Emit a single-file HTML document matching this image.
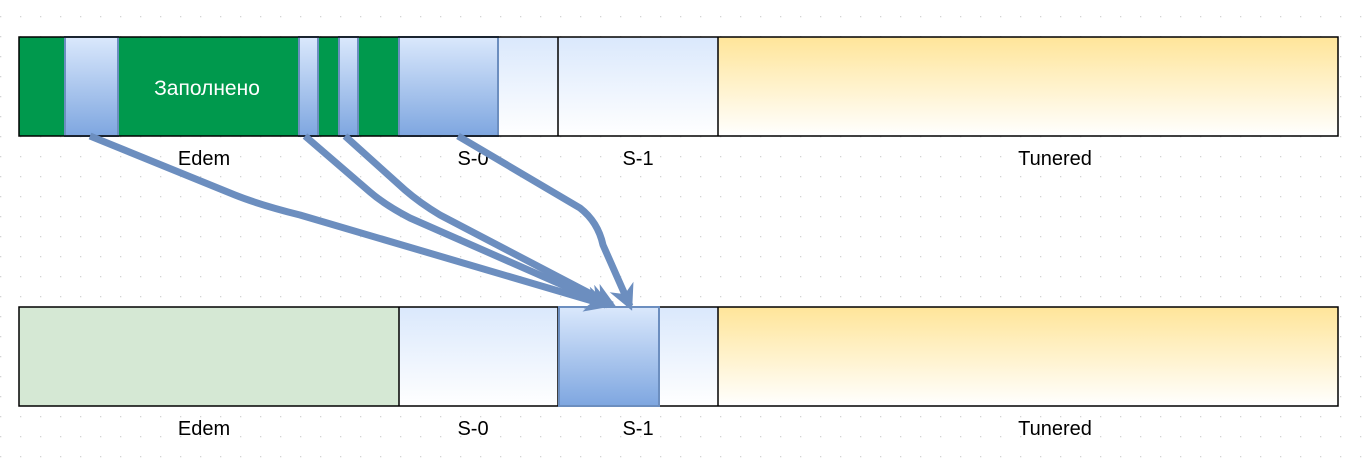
<!DOCTYPE html>
<html><head><meta charset="utf-8"><style>
body{margin:0;width:1362px;height:464px;overflow:hidden;background:#fff;font-family:"Liberation Sans",sans-serif}
svg{display:block}
</style></head><body>
<svg width="1362" height="464" xmlns="http://www.w3.org/2000/svg">
<defs>
<pattern id="dots" x="0" y="-4" width="20" height="20" patternUnits="userSpaceOnUse"><rect x="0" y="0" width="1.3" height="1.3" fill="#d4d4d4"/></pattern>
<linearGradient id="blueg" x1="0" y1="0" x2="0" y2="1"><stop offset="0" stop-color="#dae8fc"/><stop offset="1" stop-color="#7ea6e0"/></linearGradient>
<linearGradient id="lightb" x1="0" y1="0" x2="0" y2="1"><stop offset="0" stop-color="#dae8fc"/><stop offset="1" stop-color="#ffffff"/></linearGradient>
<linearGradient id="yel" x1="0" y1="0" x2="0" y2="1"><stop offset="0" stop-color="#ffe599"/><stop offset="1" stop-color="#ffffff"/></linearGradient>
<marker id="ah" viewBox="0 0 10 10" refX="8" refY="5" markerWidth="30" markerHeight="26" orient="auto" markerUnits="userSpaceOnUse"><path d="M0,0 L10,5 L0,10 L3,5 z" fill="#6c8ebf"/></marker>
</defs>
<rect width="1362" height="464" fill="url(#dots)"/>
<g>
<rect x="19" y="37" width="380" height="99" fill="#00994d"/>
<rect x="399" y="37" width="159" height="99" fill="url(#lightb)"/>
<rect x="558" y="37" width="160" height="99" fill="url(#lightb)"/>
<rect x="718" y="37" width="620" height="99" fill="url(#yel)"/>
<g stroke="#6c8ebf" stroke-width="2" fill="url(#blueg)">
<rect x="65" y="37" width="53" height="99"/>
<rect x="299" y="37" width="19" height="99"/>
<rect x="339" y="37" width="19" height="99"/>
<rect x="399" y="37" width="99" height="99"/>
</g>
<g stroke="#000" stroke-width="1.5" fill="none">
<rect x="19" y="37" width="1319" height="99"/>
<line x1="558" y1="37" x2="558" y2="136"/><line x1="718" y1="37" x2="718" y2="136"/>
</g>
<text x="207" y="95" fill="#fff" font-size="21" text-anchor="middle">Заполнено</text>
</g>
<g font-size="20" fill="#000" text-anchor="middle">
<text x="204" y="165">Edem</text>
<text x="473" y="165">S-0</text>
<text x="638" y="165">S-1</text>
<text x="1055" y="165">Tunered</text>
<text x="204" y="435">Edem</text>
<text x="473" y="435">S-0</text>
<text x="638" y="435">S-1</text>
<text x="1055" y="435">Tunered</text>
</g>
<g>
<rect x="19" y="307" width="380" height="99" fill="#d5e8d4"/>
<rect x="399" y="307" width="159" height="99" fill="url(#lightb)"/>
<rect x="558" y="307" width="160" height="99" fill="url(#lightb)"/>
<rect x="718" y="307" width="620" height="99" fill="url(#yel)"/>
<g stroke="#000" stroke-width="1.5" fill="none">
<rect x="19" y="307" width="1319" height="99"/>
<line x1="399" y1="307" x2="399" y2="406"/><line x1="558" y1="307" x2="558" y2="406"/><line x1="718" y1="307" x2="718" y2="406"/>
</g>
<rect x="559" y="307" width="100" height="99" fill="url(#blueg)" stroke="#6c8ebf" stroke-width="2"/>
</g>
<g stroke="#6c8ebf" stroke-width="7" fill="none" stroke-linejoin="round" marker-end="url(#ah)">
<path d="M90,136 L235,195 Q260,205 300,215 L606,305"/>
<path d="M305,136 L370,192 Q385,205 410,218 L608,305"/>
<path d="M345,136 L405,190 Q420,203 440,215 L612,305"/>
<path d="M458,136 L580,208 Q598,222 603,245 L630,306"/>
</g>
</svg>
</body></html>
